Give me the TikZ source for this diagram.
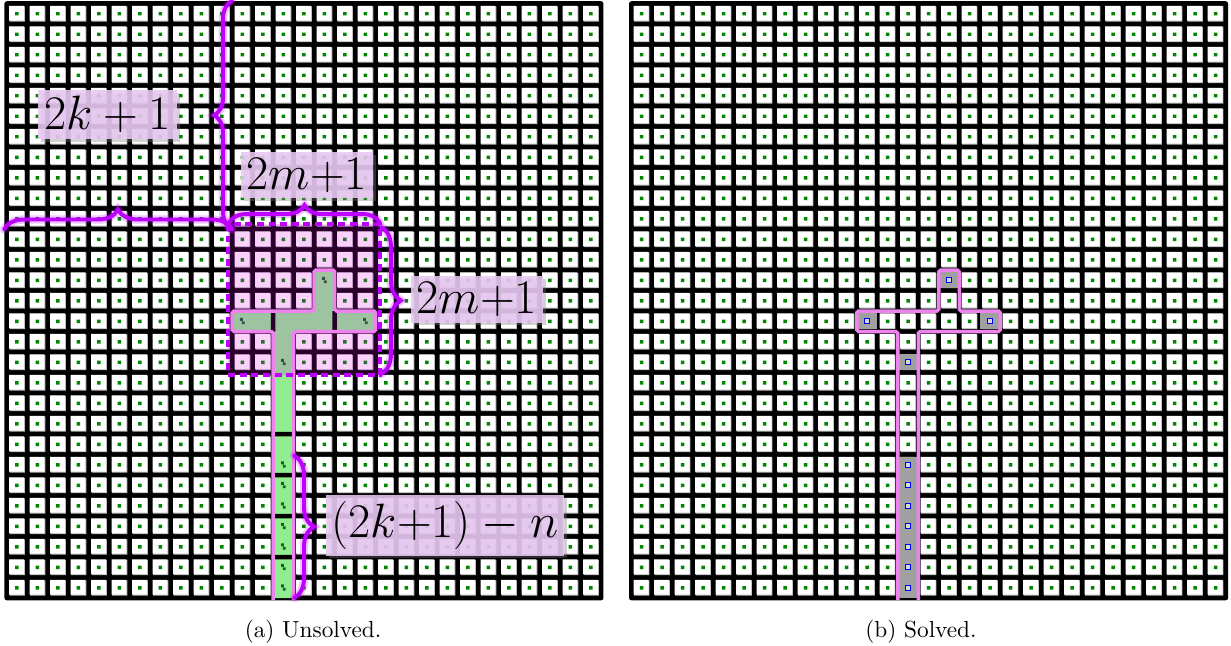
\documentclass[tikz,border=0pt]{standalone}
\usetikzlibrary{decorations.pathreplacing,shadows}
\definecolor{bracecol}{RGB}{190,0,255}
\definecolor{tint}{RGB}{225,0,235}
\definecolor{outl}{RGB}{238,130,238}
\definecolor{greenfill}{RGB}{144,238,144}
\definecolor{dotgreen}{RGB}{0,135,0}
\definecolor{markgreen}{RGB}{20,95,35}
\definecolor{cellshadow}{RGB}{190,190,190}
\definecolor{labelfill}{RGB}{232,200,243}
\definecolor{solvedgray}{RGB}{160,160,160}
\tikzset{
  bracedraw/.style={decorate, decoration={brace, amplitude=#1}, line width=1.7pt, draw=bracecol, line cap=round},
  braceglow/.style={decorate, decoration={brace, amplitude=#1}, line width=3.6pt, draw=bracecol, draw opacity=0.22, line cap=round},
  labelbox/.style={fill=labelfill, fill opacity=0.88, text opacity=1, inner sep=2.6pt, font=\huge,
    drop shadow={shadow xshift=1.2pt, shadow yshift=-1.2pt, opacity=0.35}},
  captext/.style={font=\normalsize, anchor=base},
  crossline/.style={draw=outl, line width=1.5pt, rounded corners=0.8pt},
  dashsquare/.style={draw=bracecol, line width=1.5pt, dash pattern=on 3pt off 2pt},
}
\newcommand{\basegrid}{%
  \fill[black, rounded corners=1pt] (-0.11,-0.11) rectangle (29.11,29.11);
  \fill[cellshadow] \foreach \i in {0,...,28}{\foreach \j in {0,...,28}{(\i+0.14,\j+0.14) rectangle ++(0.745,0.745)}};
  \fill[white] \foreach \i in {0,...,28}{\foreach \j in {0,...,28}{(\i+0.115,\j+0.115) rectangle ++(0.725,0.725)}};
  \fill[dotgreen] \foreach \i in {0,...,28}{\foreach \j in {0,...,28}{(\i+0.415,\j+0.415) rectangle ++(0.17,0.17)}};
}
\begin{document}
\begin{tikzpicture}[x=0.43pt, y=-0.43pt]
\useasboundingbox (0,0) rectangle (1231,645);

% ---------- left grid (unsolved) ----------
\begin{scope}[shift={(6.7,3.5)}, x=8.815pt, y=-8.815pt]
  \basegrid
  \fill[greenfill] (15,13) -- (16,13) -- (16,15) -- (18,15) -- (18,16) -- (14,16) -- (14,29) -- (13,29) -- (13,16) -- (11,16) -- (11,15) -- (15,15) -- cycle;
  \fill[black] (12.89,15) rectangle (13.11,16) (15.89,15) rectangle (16.11,16);
  \fill[black] \foreach \r in {21,23,25,27}{(13,\r-0.11) rectangle (14,\r+0.11)};
  \foreach \cx/\cy in {15/13,11/15,17/15,13/17,13/22,13/23,13/24,13/25,13/26,13/27,13/28}{
    \fill[markgreen] (\cx+0.38,\cy+0.34) rectangle ++(0.14,0.14) (\cx+0.47,\cy+0.50) rectangle ++(0.14,0.14);
  }
  \fill[tint, fill opacity=0.18] (10.8,10.75) rectangle (18.2,18.12);
  \draw[crossline] (13,29.1) -- (13,16) -- (11,16) -- (11,15) -- (15,15) -- (15,13) -- (16,13) -- (16,15) -- (18,15) -- (18,16) -- (14,16) -- (14,29.1);
  \draw[dashsquare] (10.8,10.75) rectangle (18.2,18.12);
\end{scope}

% ---------- right grid (solved) ----------
\begin{scope}[shift={(631.3,3.5)}, x=8.815pt, y=-8.815pt]
  \basegrid
  \fill[solvedgray] (13,22.11) rectangle (14,29);
  \foreach \cx/\cy in {15/13,11/15,17/15,13/17}{
    \fill[solvedgray] (\cx,\cy+0.11) rectangle ++(1,0.78);
  }
  \foreach \cx/\cy in {15/13,11/15,17/15,13/17,13/22,13/23,13/24,13/25,13/26,13/27,13/28}{
    \draw[blue, line width=0.55pt, fill=gray!30] (\cx+0.375,\cy+0.375) rectangle ++(0.25,0.25);
  }
  \draw[crossline] (13,29.1) -- (13,16) -- (11,16) -- (11,15) -- (15,15) -- (15,13) -- (16,13) -- (16,15) -- (18,15) -- (18,16) -- (14,16) -- (14,29.1);
\end{scope}

% ---------- braces ----------
\coordinate (b1s) at (232,229.5);  \coordinate (b1e) at (232,1);
\coordinate (b2s) at (4,229.5);    \coordinate (b2e) at (232,229.5);
\coordinate (b3s) at (229,223);    \coordinate (b3e) at (380,223);
\coordinate (b4s) at (381,227);    \coordinate (b4e) at (381,374);
\coordinate (b5s) at (294,455.5);  \coordinate (b5e) at (294,598);
\draw[braceglow=7.7pt] (b1s) -- (b1e);  \draw[bracedraw=7.7pt] (b1s) -- (b1e);
\draw[braceglow=8.6pt] (b2s) -- (b2e);  \draw[bracedraw=8.6pt] (b2s) -- (b2e);
\draw[braceglow=7.7pt] (b3s) -- (b3e);  \draw[bracedraw=7.7pt] (b3s) -- (b3e);
\draw[braceglow=8.6pt] (b4s) -- (b4e);  \draw[bracedraw=8.6pt] (b4s) -- (b4e);
\draw[braceglow=8.6pt] (b5s) -- (b5e);  \draw[bracedraw=8.6pt] (b5s) -- (b5e);

% ---------- labels ----------
\node[labelbox] (lk)  at (107.5,114.5) {$2k+1$};
\node[labelbox] (lm1) at (307,175)     {$2m{+}1$};
\node[labelbox] (lm2) at (477,299.5)   {$2m{+}1$};
\node[labelbox] (ln)  at (445,525.5)   {$(2k{+}1)-n$};

% ---------- captions ----------
\node[captext] (capa) at (313,637) {(a) Unsolved.};
\node[captext] (capb) at (921,637) {(b) Solved.};
\end{tikzpicture}
\end{document}
